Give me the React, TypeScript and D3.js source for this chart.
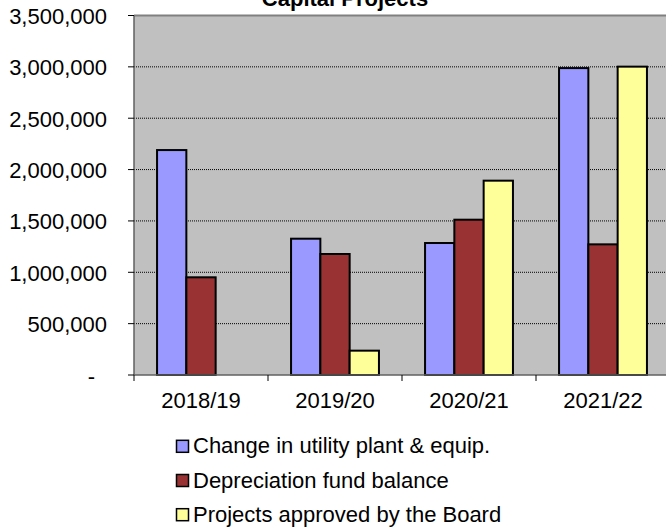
import * as React from 'react'
import { useEffect, useRef } from 'react'
import * as d3 from 'd3'

const categories = ['2018/19', '2019/20', '2020/21', '2021/22']
const seriesNames = [
  'Change in utility plant & equip.',
  'Depreciation fund balance',
  'Projects approved by the Board',
]
const changeInPlant = [2190000, 1327000, 1285000, 2988000]
const depreciationFund = [951000, 1178000, 1512000, 1272000]
const approvedProjects: (number | null)[] = [null, 237000, 1892000, 3002000]
const yTicks = [0, 500000, 1000000, 1500000, 2000000, 2500000, 3000000, 3500000]

const colors = ['#9999FF', '#993333', '#FFFF99']
const FONT = 'Liberation Sans, Arial, sans-serif'

const App = () => {
  const ref = useRef<HTMLDivElement | null>(null)

  useEffect(() => {
    document.body.style.margin = '0'
    const width = 666
    const height = 529
    const left = 134
    const right = 670
    const top = 15.5
    const bottom = 375

    const svg = d3.select(ref.current)
      .append('svg')
      .attr('width', width)
      .attr('height', height)
      .style('display', 'block')
      .style('font-family', FONT)

    const x = d3.scaleBand<string>().domain(categories).range([left, right]).padding(0)
    const y = d3.scaleLinear().domain([0, 3500000]).range([bottom, top])
    const slotW = 29.3
    const slots = d3.scaleBand<number>().domain([0, 1, 2])
      .range([(x.bandwidth() - slotW * 3) / 2, (x.bandwidth() + slotW * 3) / 2])

    // plot area
    svg.append('rect')
      .attr('x', left).attr('y', top)
      .attr('width', right - left).attr('height', bottom - top)
      .attr('fill', '#C0C0C0')

    // gridlines
    svg.append('g').selectAll('line')
      .data(yTicks.filter(d => d > 0 && d < 3500000))
      .enter().append('line')
      .attr('x1', left).attr('x2', right)
      .attr('y1', d => y(d)).attr('y2', d => y(d))
      .attr('stroke', '#000').attr('stroke-width', 1)
      .attr('stroke-dasharray', '1,1')

    // top border
    svg.append('line')
      .attr('x1', left).attr('x2', right)
      .attr('y1', top).attr('y2', top)
      .attr('stroke', '#808080').attr('stroke-width', 2)

    // bars
    const series = [changeInPlant, depreciationFund, approvedProjects]
    series.forEach((vals, si) => {
      svg.append('g').selectAll('rect')
        .data(categories.map((c, i) => ({ c, v: vals[i] })).filter(d => d.v != null))
        .enter().append('rect')
        .attr('x', d => (x(d.c) as number) + (slots(si) as number))
        .attr('y', d => y(d.v as number))
        .attr('width', slotW)
        .attr('height', d => bottom - y(d.v as number))
        .attr('fill', colors[si])
        .attr('stroke', '#000')
        .attr('stroke-width', 2)
    })

    // y axis
    const yAxis = svg.append('g')
    yAxis.append('line')
      .attr('x1', left).attr('x2', left)
      .attr('y1', top).attr('y2', bottom)
      .attr('stroke', '#606060').attr('stroke-width', 1.5)
    yAxis.selectAll('line.tick')
      .data(yTicks)
      .enter().append('line')
      .attr('class', 'tick')
      .attr('x1', left - 6).attr('x2', left)
      .attr('y1', d => y(d)).attr('y2', d => y(d))
      .attr('stroke', '#000')
    yAxis.selectAll('text')
      .data(yTicks)
      .enter().append('text')
      .attr('x', d => (d === 0 ? 95 : 107))
      .attr('y', d => y(d) + 8.5)
      .attr('text-anchor', 'end')
      .attr('font-size', 22)
      .text(d => (d === 0 ? '-' : d3.format(',')(d)))

    // x axis
    const xAxis = svg.append('g')
    xAxis.append('line')
      .attr('x1', left).attr('x2', right)
      .attr('y1', bottom).attr('y2', bottom)
      .attr('stroke', '#606060').attr('stroke-width', 1.5)
    xAxis.selectAll('line.tick')
      .data(categories.concat(['end']))
      .enter().append('line')
      .attr('class', 'tick')
      .attr('x1', (d, i) => left + i * x.bandwidth())
      .attr('x2', (d, i) => left + i * x.bandwidth())
      .attr('y1', bottom).attr('y2', bottom + 6)
      .attr('stroke', '#000')
    xAxis.selectAll('text')
      .data(categories)
      .enter().append('text')
      .attr('x', d => (x(d) as number) + x.bandwidth() / 2)
      .attr('y', 408)
      .attr('text-anchor', 'middle')
      .attr('font-size', 22)
      .text(d => d)

    // title
    svg.append('text')
      .attr('x', 345).attr('y', 6)
      .attr('text-anchor', 'middle')
      .attr('font-size', 22)
      .attr('font-weight', 'bold')
      .text('Capital Projects')

    // legend
    const legend = svg.append('g')
    seriesNames.forEach((name, i) => {
      const by = 453.3 + i * 34.2
      legend.append('rect')
        .attr('x', 176.5).attr('y', by - 13)
        .attr('width', 12).attr('height', 12)
        .attr('fill', colors[i])
        .attr('stroke', '#000').attr('stroke-width', 1.5)
      legend.append('text')
        .attr('x', 193).attr('y', by)
        .attr('font-size', 22)
        .text(name)
    })

    return () => {
      svg.remove()
    }
  }, [])

  return <div ref={ref} />
}

export default App
